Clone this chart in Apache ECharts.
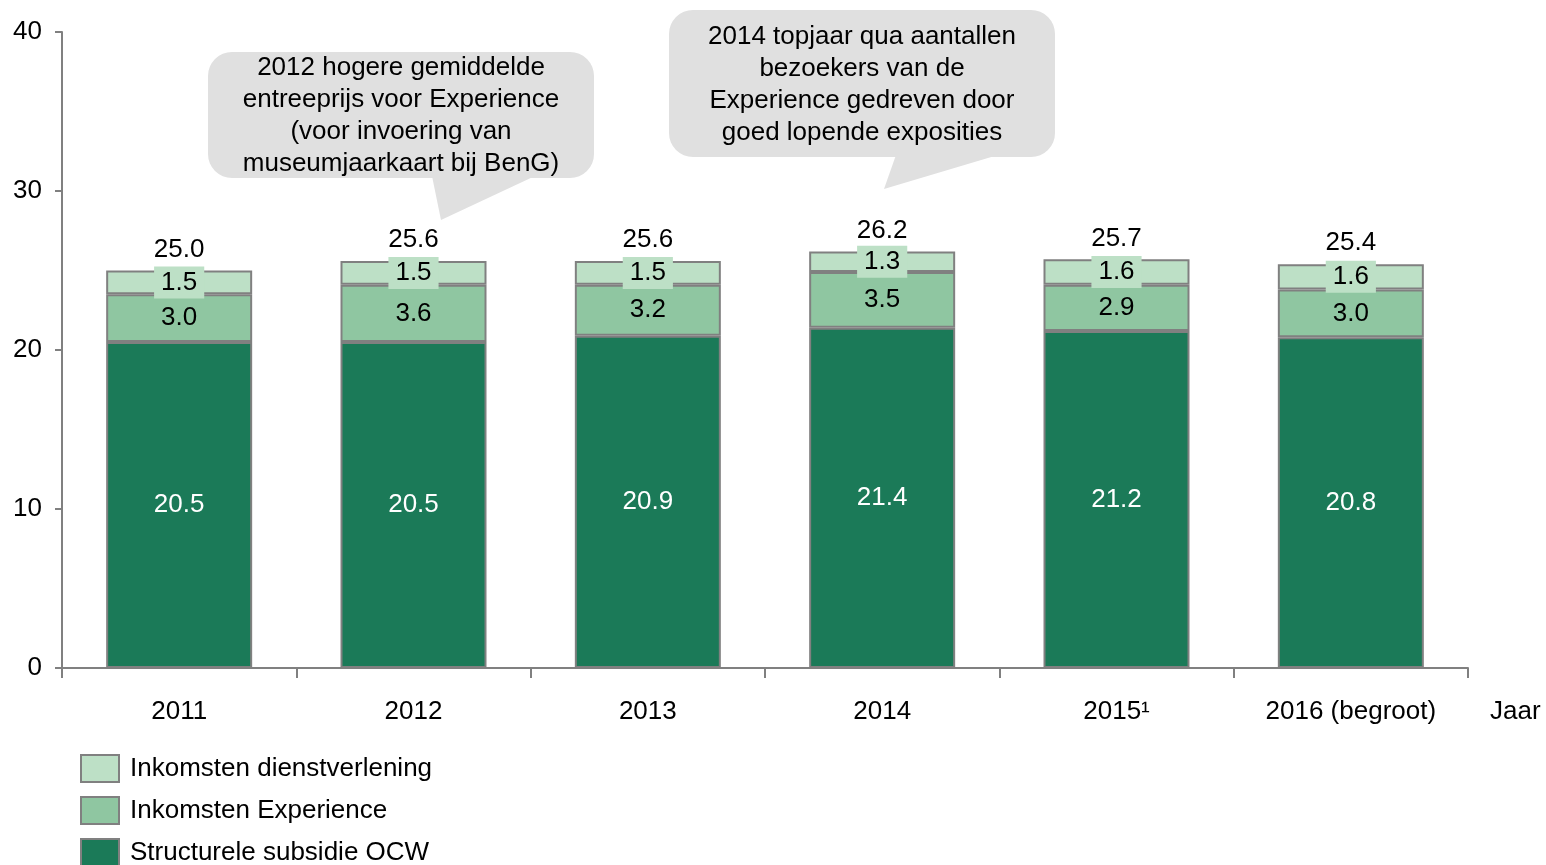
<!DOCTYPE html>
<html>
<head>
<meta charset="utf-8">
<title>Inkomsten</title>
<script src="https://cdn.jsdelivr.net/npm/echarts@6/dist/echarts.min.js"></script>
<style>
html,body{margin:0;padding:0;background:#fff;}
#chart{width:1546px;height:865px;}
</style>
</head>
<body>
<div id="chart"></div>
<script>
// 数据
var years = ['2011', '2012', '2013', '2014', '2015\u00b9', '2016 (begroot)'];
var subsidie = [20.5, 20.5, 20.9, 21.4, 21.2, 20.8];
var experience = [3.0, 3.6, 3.2, 3.5, 2.9, 3.0];
var dienstverlening = [1.5, 1.5, 1.5, 1.3, 1.6, 1.6];
var totaal = [25.0, 25.6, 25.6, 26.2, 25.7, 25.4];
var yMin = 0, yMax = 40, yStep = 10;
var names = ['Inkomsten dienstverlening', 'Inkomsten Experience', 'Structurele subsidie OCW'];
var notes = [
	'2012 hogere gemiddelde\nentreeprijs voor Experience\n(voor invoering van\nmuseumjaarkaart bij BenG)',
	'2014 topjaar qua aantallen\nbezoekers van de\nExperience gedreven door\ngoed lopende exposities'
];

var font = 'Liberation Sans, Arial, sans-serif';
var fs = 26;
var grijs = '#808080';
var bubbel = '#e0e0e0';

function fmt(p){
	return p.value.toFixed(1);
}

var chart = echarts.init(document.getElementById('chart'));
var option = {
	animation: false,
	textStyle: {fontFamily: font},
	grid: {left: 62, right: 78, top: 32, bottom: 197, outerBoundsMode: 'none', containLabel: false},
	legend: {
		orient: 'vertical',
		left: 80,
		top: 754,
		height: 140,
		padding: 0,
		icon: 'rect',
		itemWidth: 38,
		itemHeight: 27,
		itemGap: 13,
		data: names,
		itemStyle: {borderColor: grijs, borderWidth: 2},
		textStyle: {fontSize: fs, lineHeight: 27, color: '#000', fontFamily: font, padding: [0, 0, 0, 6]}
	},
	xAxis: {
		type: 'category',
		data: years,
		name: 'Jaar',
		nameLocation: 'end',
		nameGap: 22,
		nameTextStyle: {fontSize: fs, color: '#000', fontFamily: font, verticalAlign: 'top', lineHeight: 26, padding: [31, 0, 0, 0]},
		axisLine: {lineStyle: {color: grijs, width: 2}},
		axisTick: {show: true, length: 10, lineStyle: {color: grijs, width: 2}},
		axisLabel: {fontSize: fs, color: '#000', margin: 31, fontFamily: font}
	},
	yAxis: {
		type: 'value',
		min: yMin,
		max: yMax,
		interval: yStep,
		axisLine: {show: true, lineStyle: {color: grijs, width: 2}},
		axisTick: {show: true, length: 7, lineStyle: {color: grijs, width: 2}},
		splitLine: {show: false},
		axisLabel: {fontSize: fs, color: '#000', margin: 20, fontFamily: font}
	},
	series: [
		{
			name: names[2],
			type: 'bar',
			stack: 'tot',
			barWidth: 146,
			data: subsidie,
			itemStyle: {color: '#1b7a58', borderColor: grijs, borderWidth: 2},
			label: {show: true, position: 'inside', color: '#fff', fontSize: fs, fontFamily: font, formatter: fmt}
		},
		{
			name: names[1],
			type: 'bar',
			stack: 'tot',
			data: experience,
			itemStyle: {color: '#8fc6a1', borderColor: grijs, borderWidth: 2},
			label: {show: true, position: 'inside', color: '#000', fontSize: fs, fontFamily: font, formatter: fmt}
		},
		{
			name: names[0],
			type: 'bar',
			stack: 'tot',
			data: dienstverlening,
			itemStyle: {color: '#bde0c6', borderColor: grijs, borderWidth: 2},
			label: {
				show: true, position: 'inside', color: '#000', fontSize: fs, fontFamily: font,
				backgroundColor: '#bde0c6', padding: [3, 7], formatter: fmt
			}
		},
		{
			// 总数标签
			name: 'totaal',
			type: 'scatter',
			data: totaal,
			symbolSize: 0,
			itemStyle: {color: '#000', opacity: 0},
			label: {show: true, position: 'top', distance: 8, color: '#000', opacity: 1, fontSize: fs, fontFamily: font, formatter: fmt},
			z: 5
		}
	],
	graphic: [
		{
			type: 'group',
			children: [
				{type: 'polygon', shape: {points: [[432, 176], [441, 220], [535, 176]]}, style: {fill: bubbel}},
				{type: 'rect', shape: {x: 208, y: 52, width: 386, height: 126, r: 24}, style: {fill: bubbel}},
				{type: 'text', x: 401, y: 116, style: {text: notes[0], align: 'center', verticalAlign: 'middle', fontSize: fs, lineHeight: 32, fontFamily: font, fill: '#000'}}
			]
		},
		{
			type: 'group',
			children: [
				{type: 'polygon', shape: {points: [[896, 155], [884, 189], [998, 155]]}, style: {fill: bubbel}},
				{type: 'rect', shape: {x: 669, y: 10, width: 386, height: 147, r: 24}, style: {fill: bubbel}},
				{type: 'text', x: 862, y: 85, style: {text: notes[1], align: 'center', verticalAlign: 'middle', fontSize: fs, lineHeight: 32, fontFamily: font, fill: '#000'}}
			]
		}
	]
};
chart.setOption(option);
</script>
</body>
</html>
